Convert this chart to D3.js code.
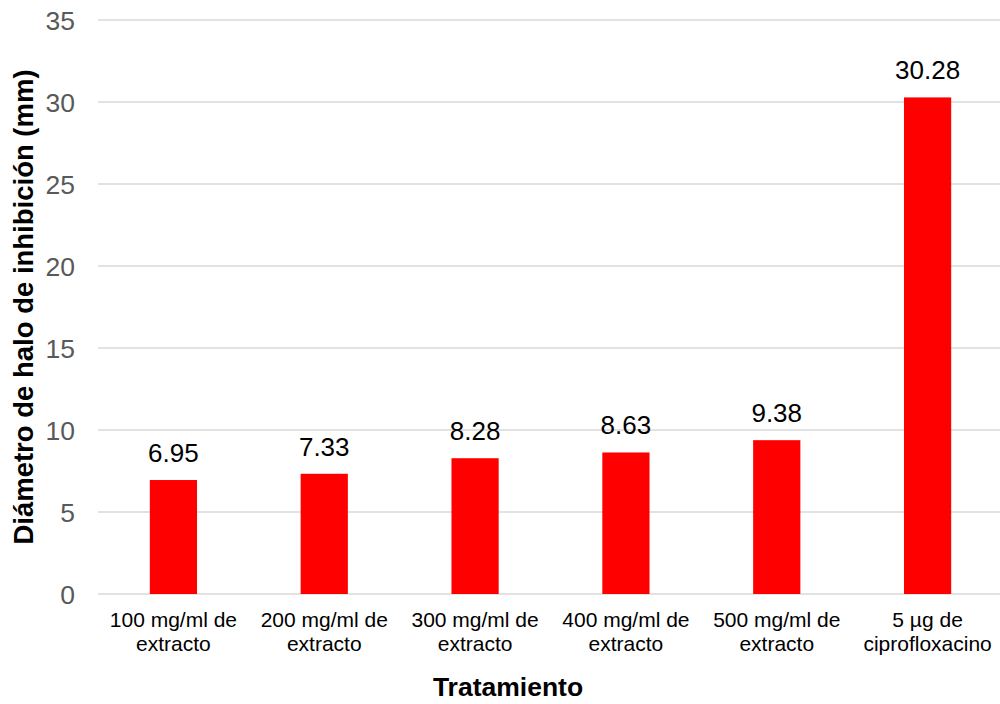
<!DOCTYPE html>
<html>
<head>
<meta charset="utf-8">
<script src="https://cdn.jsdelivr.net/npm/d3@7"></script>
<style>
  body { margin: 0; background: #fff; }
  text { font-family: "Liberation Sans", Arial, sans-serif; }
</style>
</head>
<body>
<div id="chart"></div>
<script>
const categories = [
  ["100 mg/ml de", "extracto"],
  ["200 mg/ml de", "extracto"],
  ["300 mg/ml de", "extracto"],
  ["400 mg/ml de", "extracto"],
  ["500 mg/ml de", "extracto"],
  ["5 µg de", "ciprofloxacino"]
]
const values = [6.95, 7.33, 8.28, 8.63, 9.38, 30.28]
const yTicks = [0, 5, 10, 15, 20, 25, 30, 35]

const width = 1000
const height = 704
const margin = {top: 20, right: -3, bottom: 110, left: 98}

const svg = d3.select("#chart")
  .append("svg")
  .attr("width", width)
  .attr("height", height)

const x = d3.scaleBand()
  .domain(d3.range(categories.length))
  .range([margin.left, width - margin.right])
  .paddingInner(0.687)
  .paddingOuter(0.3435)

const y = d3.scaleLinear()
  .domain([0, 35])
  .range([height - margin.bottom, margin.top])

// gridlines
svg.append("g")
  .selectAll("line")
  .data(yTicks)
  .join("line")
  .attr("x1", margin.left)
  .attr("x2", width - margin.right)
  .attr("y1", d => y(d))
  .attr("y2", d => y(d))
  .attr("stroke", "#d9d9d9")
  .attr("stroke-width", 1.5)

// y axis labels
const yAxis = svg.append("g")
  .attr("transform", `translate(${margin.left - 23},0)`)
  .call(d3.axisLeft(y).tickValues(yTicks).tickSize(0).tickPadding(0))
yAxis.select(".domain").remove()
yAxis.selectAll("text")
  .attr("fill", "#595959")
  .attr("dy", "0.36em")
  .style("font-size", "26.5px")
  .style("font-family", "Liberation Sans, Arial, sans-serif")

// bars
svg.append("g")
  .selectAll("rect")
  .data(values)
  .join("rect")
  .attr("x", (d, i) => x(i))
  .attr("y", d => y(d))
  .attr("width", x.bandwidth())
  .attr("height", d => y(0) - y(d))
  .attr("fill", "#ff0000")

// value labels
svg.append("g")
  .selectAll("text")
  .data(values)
  .join("text")
  .attr("x", (d, i) => x(i) + x.bandwidth() / 2)
  .attr("y", d => y(d) - 18)
  .attr("text-anchor", "middle")
  .attr("fill", "#000")
  .style("font-size", "26px")
  .text(d => d.toFixed(2))

// category labels
const cat = svg.append("g")
  .selectAll("text")
  .data(categories)
  .join("text")
  .attr("x", (d, i) => x(i) + x.bandwidth() / 2)
  .attr("y", y(0) + 33)
  .attr("text-anchor", "middle")
  .attr("fill", "#000")
  .style("font-size", "21px")
cat.selectAll("tspan")
  .data(d => d)
  .join("tspan")
  .attr("x", function() { return this.parentNode.getAttribute("x") })
  .attr("dy", (d, i) => i === 0 ? 0 : 23.5)
  .text(d => d)

// axis titles
svg.append("text")
  .attr("x", 508)
  .attr("y", 696)
  .attr("text-anchor", "middle")
  .attr("fill", "#000")
  .style("font-size", "26.5px")
  .style("font-weight", "bold")
  .text("Tratamiento")

svg.append("text")
  .attr("transform", `translate(33,${(y(0) + y(35)) / 2}) rotate(-90)`)
  .attr("text-anchor", "middle")
  .attr("fill", "#000")
  .style("font-size", "27.5px")
  .style("font-weight", "bold")
  .text("Diámetro de halo de inhibición (mm)")
</script>
</body>
</html>
